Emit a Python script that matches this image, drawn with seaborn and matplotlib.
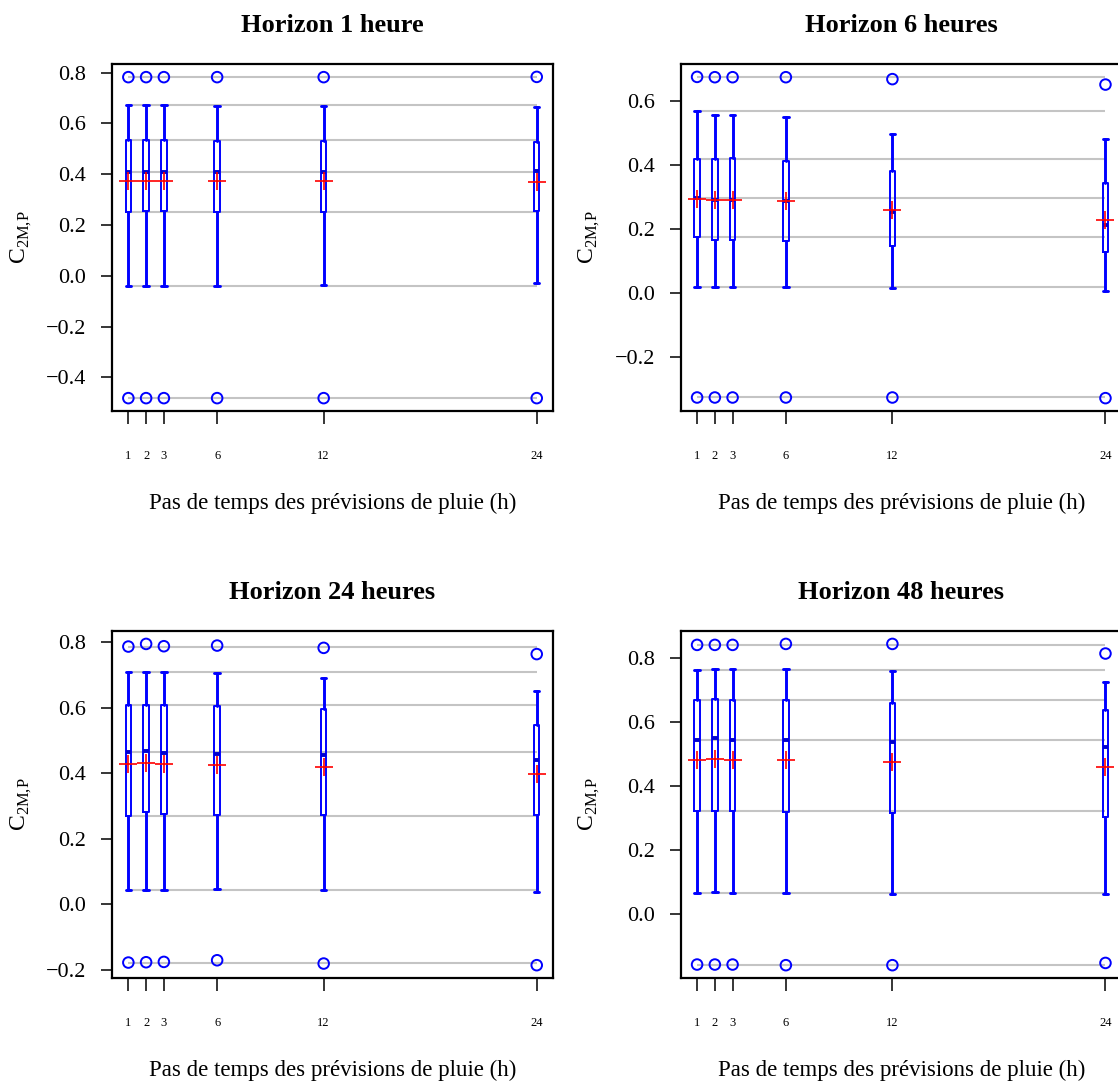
import matplotlib
matplotlib.use("Agg")
import matplotlib.pyplot as plt
import pandas as pd
import seaborn as sns

STEPS = [1, 2, 3, 6, 12, 24]
TITLES = ["Horizon 1 heure", "Horizon 6 heures", "Horizon 24 heures", "Horizon 48 heures"]
XLABEL = "Pas de temps des prévisions de pluie (h)"
YLABEL = r"C$_{\mathregular{2M{,}P}}$"

# one row per forecast horizon, one value per rain time step
MAXV = [
    [0.782, 0.782, 0.782, 0.782, 0.782, 0.783],
    [0.674, 0.673, 0.673, 0.673, 0.667, 0.650],
    [0.786, 0.794, 0.787, 0.789, 0.782, 0.763],
    [0.841, 0.841, 0.841, 0.844, 0.844, 0.814],
]
WHI_HI = [
    [0.673, 0.673, 0.673, 0.670, 0.667, 0.663],
    [0.566, 0.555, 0.555, 0.548, 0.496, 0.481],
    [0.709, 0.709, 0.709, 0.705, 0.690, 0.651],
    [0.763, 0.766, 0.766, 0.766, 0.758, 0.725],
]
Q3 = [
    [0.536, 0.536, 0.536, 0.532, 0.532, 0.527],
    [0.417, 0.417, 0.420, 0.411, 0.381, 0.344],
    [0.608, 0.608, 0.608, 0.606, 0.595, 0.548],
    [0.668, 0.671, 0.669, 0.669, 0.659, 0.636],
]
MED = [
    [0.409, 0.409, 0.409, 0.410, 0.409, 0.414],
    [0.295, 0.291, 0.291, 0.287, 0.252, 0.211],
    [0.465, 0.467, 0.463, 0.458, 0.456, 0.440],
    [0.543, 0.550, 0.545, 0.545, 0.536, 0.522],
]
MEAN = [
    [0.372, 0.372, 0.372, 0.372, 0.372, 0.368],
    [0.293, 0.290, 0.290, 0.286, 0.257, 0.227],
    [0.427, 0.430, 0.427, 0.426, 0.420, 0.398],
    [0.481, 0.484, 0.481, 0.480, 0.476, 0.459],
]
Q1 = [
    [0.251, 0.254, 0.254, 0.249, 0.251, 0.256],
    [0.174, 0.165, 0.166, 0.162, 0.147, 0.128],
    [0.271, 0.282, 0.276, 0.274, 0.273, 0.273],
    [0.322, 0.322, 0.322, 0.319, 0.316, 0.302],
]
WHI_LO = [
    [-0.040, -0.040, -0.040, -0.040, -0.037, -0.029],
    [0.017, 0.017, 0.017, 0.018, 0.015, 0.006],
    [0.043, 0.043, 0.045, 0.047, 0.043, 0.038],
    [0.067, 0.070, 0.066, 0.066, 0.063, 0.063],
]
MINV = [
    [-0.482, -0.482, -0.482, -0.482, -0.482, -0.482],
    [-0.327, -0.327, -0.327, -0.327, -0.327, -0.329],
    [-0.177, -0.176, -0.175, -0.170, -0.180, -0.185],
    [-0.158, -0.158, -0.158, -0.160, -0.160, -0.153],
]
YTICKS = [
    [-0.4, -0.2, 0.0, 0.2, 0.4, 0.6, 0.8],
    [-0.2, 0.0, 0.2, 0.4, 0.6],
    [-0.2, 0.0, 0.2, 0.4, 0.6, 0.8],
    [0.0, 0.2, 0.4, 0.6, 0.8],
]

sns.set_style("white")
plt.rcParams["font.family"] = ["Liberation Serif", "DejaVu Serif"]
plt.rcParams["mathtext.fontset"] = "custom"
plt.rcParams["mathtext.rm"] = "Liberation Serif"
for key in ["text.color", "axes.labelcolor", "xtick.color", "ytick.color"]:
    plt.rcParams[key] = "black"

fig = plt.figure(figsize=(11.18, 10.89), dpi=100)

# axes boxes (figure fractions); right column runs past the figure edge like the source
AX_W, AX_H = 0.3945, 0.3186
LEFTS = [0.1002, 0.6089]
BOTTOMS = [0.6226, 0.1019]


def draw_panel(ax, i):
    df = pd.DataFrame({
        "step": STEPS, "max": MAXV[i], "min": MINV[i], "mean": MEAN[i],
    })

    # grey reference lines at the levels of the first (1 h) box
    refs = [MAXV[i][0], WHI_HI[i][0], Q3[i][0], MED[i][0], Q1[i][0], WHI_LO[i][0], MINV[i][0]]
    ax.hlines(refs, STEPS[0], STEPS[-1], color="#c4c4c4", lw=1.5, zorder=1)

    stats = [
        dict(med=MED[i][k], q1=Q1[i][k], q3=Q3[i][k],
             whislo=WHI_LO[i][k], whishi=WHI_HI[i][k], fliers=[])
        for k in range(len(STEPS))
    ]
    ax.bxp(
        stats, positions=STEPS, widths=0.3, capwidths=0.3,
        showfliers=False, manage_ticks=False, patch_artist=False,
        boxprops=dict(color="blue", lw=1.4),
        whiskerprops=dict(color="blue", lw=2.1, linestyle="-"),
        capprops=dict(color="blue", lw=2.1),
        medianprops=dict(color="#0000d0", lw=2.8, solid_capstyle="butt"),
        zorder=2,
    )

    # min / max as open circles, mean as red cross
    for col in ["max", "min"]:
        sns.scatterplot(data=df, x="step", y=col, ax=ax, marker="o", s=58,
                        fc="none", ec="blue", linewidth=1.4, zorder=3)
    sns.scatterplot(data=df, x="step", y="mean", ax=ax, marker="+", s=150,
                    color="red", linewidth=1.2, zorder=4)

    lo = min(MINV[i])
    hi = max(MAXV[i])
    pad = 0.04 * (hi - lo)
    ax.set_ylim(lo - pad, hi + pad)
    xpad = 0.04 * (STEPS[-1] - STEPS[0])
    ax.set_xlim(STEPS[0] - xpad, STEPS[-1] + xpad)

    ax.set_xticks(STEPS)
    ax.set_xticklabels([str(s) for s in STEPS], fontsize=9)
    ax.set_yticks(YTICKS[i])
    ax.set_yticklabels([f"{v:.1f}".replace("-", "\u2212") for v in YTICKS[i]], fontsize=16)
    ax.tick_params(axis="x", bottom=True, direction="out", length=9, width=1.1, pad=19,
                   color="black", labelcolor="black")
    ax.tick_params(axis="y", left=True, direction="out", length=8, width=1.1, pad=10.5,
                   color="black", labelcolor="black")

    for sp in ax.spines.values():
        sp.set_visible(True)
        sp.set_color("black")
        sp.set_linewidth(1.6)

    ax.set_title(TITLES[i], fontsize=19, fontweight="bold", pad=23, color="black")
    ax.set_xlabel(XLABEL, fontsize=16.5)
    ax.xaxis.set_label_coords(0.5, -0.235)
    ax.set_ylabel(YLABEL, fontsize=17)
    ax.yaxis.label.set_verticalalignment("center")
    ax.yaxis.set_label_coords(-0.206, 0.5)


for i in range(4):
    row, col = divmod(i, 2)
    ax = fig.add_axes([LEFTS[col], BOTTOMS[row], AX_W, AX_H])
    draw_panel(ax, i)

fig.savefig("out.png", dpi=100)
